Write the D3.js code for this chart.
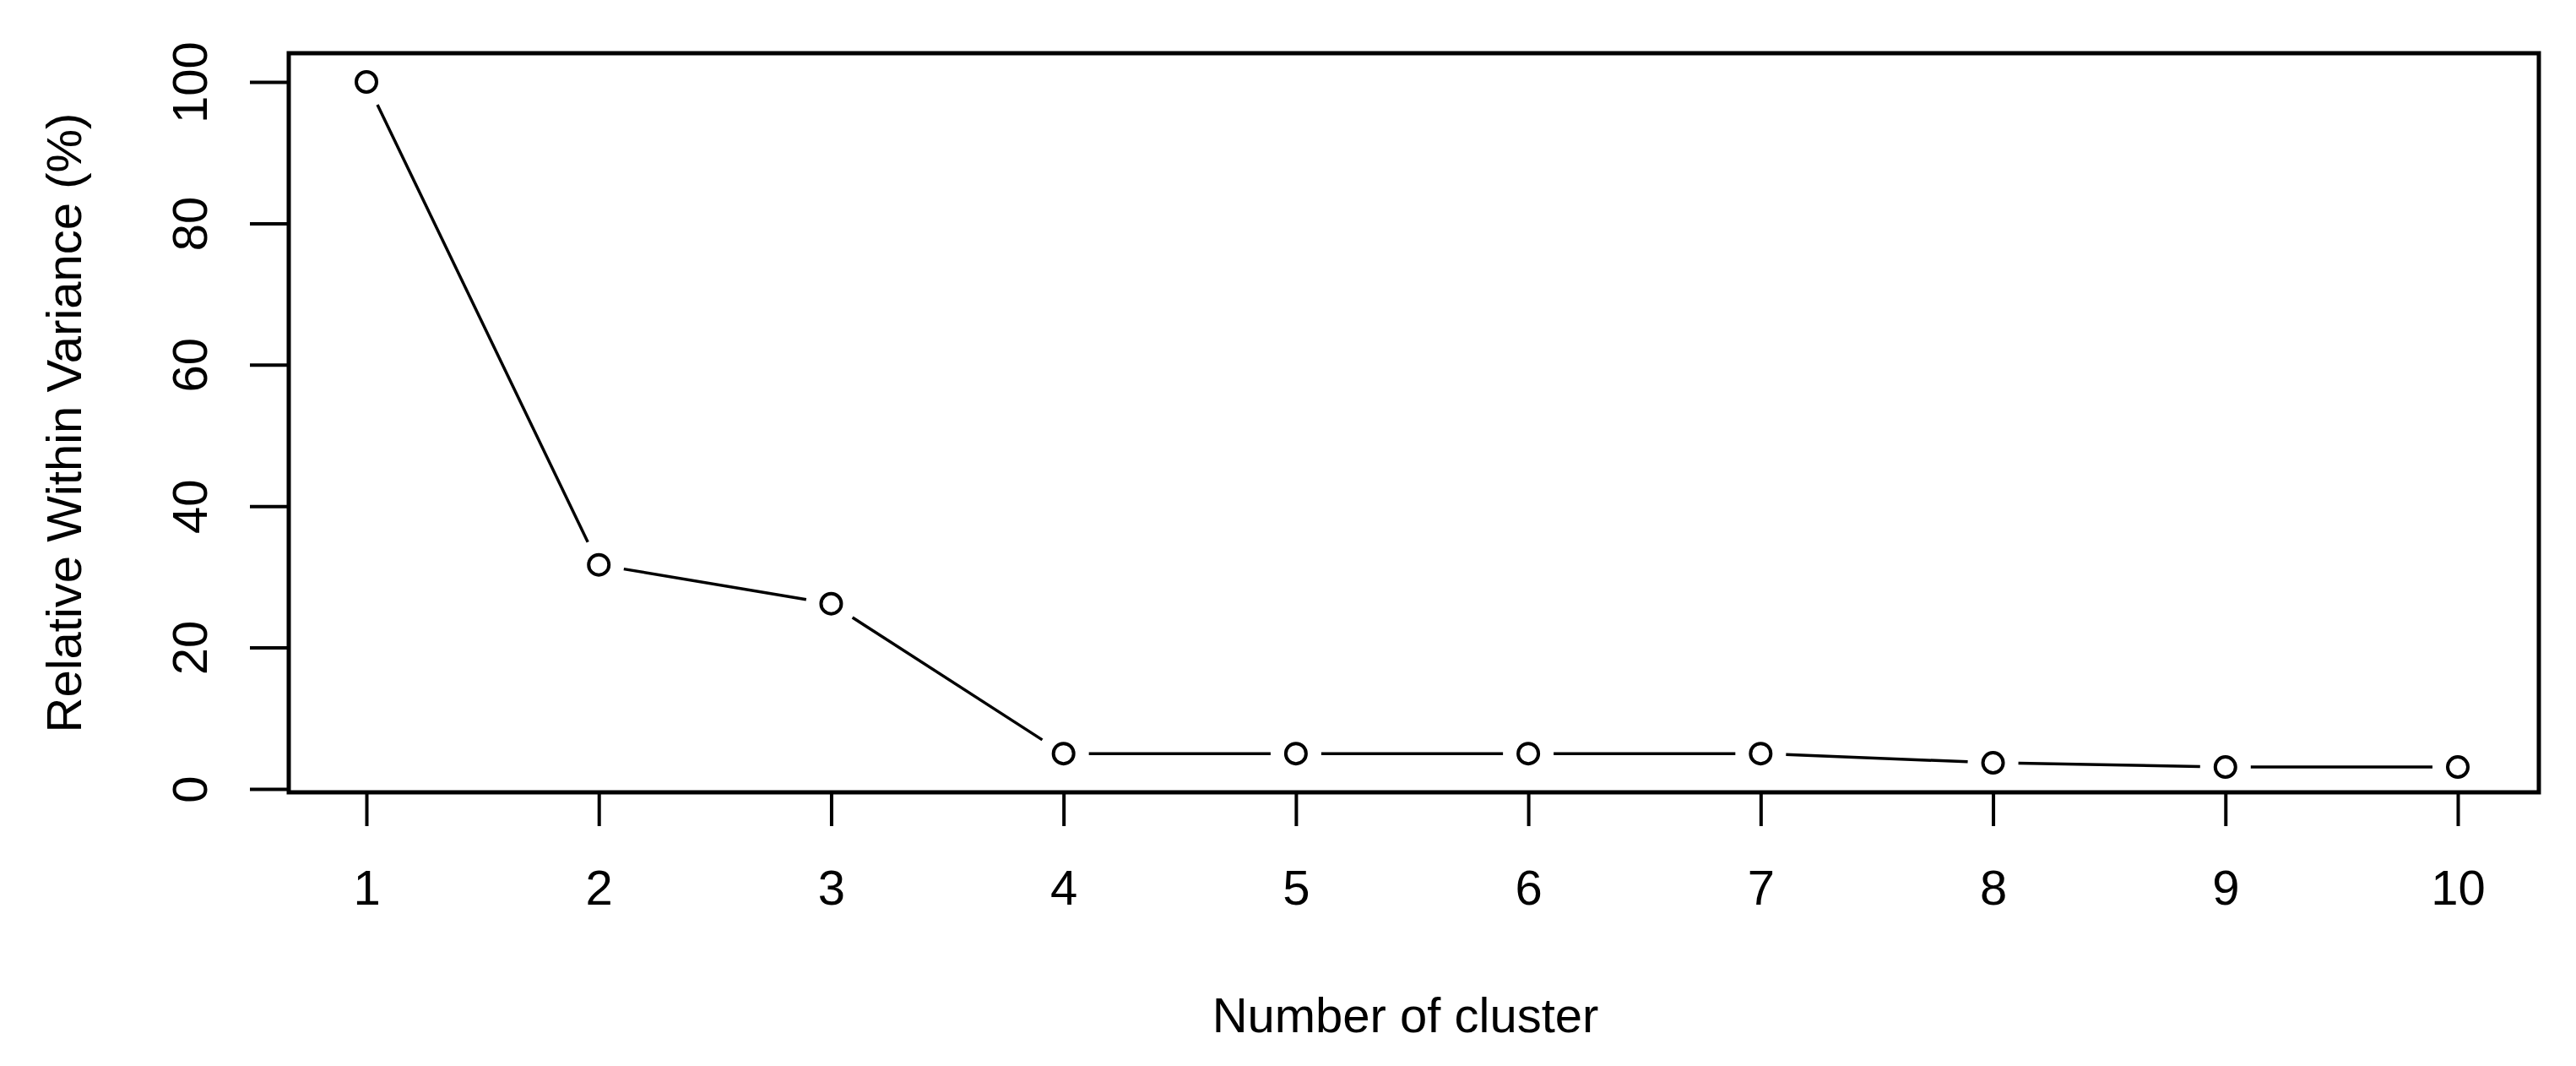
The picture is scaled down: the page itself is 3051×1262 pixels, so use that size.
<!DOCTYPE html>
<html>
<head>
<meta charset="utf-8">
<script src="https://cdn.jsdelivr.net/npm/d3@7"></script>
<style>
  body { margin: 0; background: #fff; }
  text { font-family: "Liberation Sans", Arial, sans-serif; fill: #000; }
</style>
</head>
<body>
<script>
const clusters = [1, 2, 3, 4, 5, 6, 7, 8, 9, 10];
const variance = [100, 31.7, 26.2, 5.0, 5.0, 5.0, 5.0, 3.7, 3.1, 3.1];
const yTicks = [0, 20, 40, 60, 80, 100];

const W = 3051, H = 1262;
const box = { left: 342, right: 3007, top: 63, bottom: 938 };

const svg = d3.select('body')
  .append('svg')
  .attr('width', W)
  .attr('height', H);

const xscale = d3.scaleLinear().domain([1, 10]).range([434, 2911]);
const yscale = d3.scaleLinear().domain([0, 100]).range([934, 97]);

// frame
svg.append('rect')
  .attr('x', box.left).attr('y', box.top)
  .attr('width', box.right - box.left).attr('height', box.bottom - box.top)
  .attr('fill', 'none').attr('stroke', '#000').attr('stroke-width', 5);

// y axis (ticks outside the frame, labels rotated)
const yaxis = d3.axisLeft(yscale).tickValues(yTicks).tickSize(44);
const gy = svg.append('g').attr('transform', `translate(${box.left - 2},0)`).call(yaxis);
gy.select('.domain').remove();
gy.selectAll('.tick line').attr('stroke', '#000').attr('stroke-width', 4);
gy.selectAll('.tick text')
  .attr('font-size', 58)
  .attr('text-anchor', 'middle')
  .attr('x', 0).attr('y', 0).attr('dy', 0)
  .attr('transform', 'translate(-95,0) rotate(-90)');

// x axis
const xaxis = d3.axisBottom(xscale).tickValues(clusters).tickSize(40).tickPadding(52).tickFormat(d3.format('d'));
const gx = svg.append('g').attr('transform', `translate(0,${box.bottom})`).call(xaxis);
gx.select('.domain').remove();
gx.selectAll('.tick line').attr('stroke', '#000').attr('stroke-width', 4);
gx.selectAll('.tick text').attr('font-size', 58).attr('dy', '0.71em');

// axis titles
svg.append('text')
  .attr('x', (box.left + box.right) / 2 - 10).attr('y', 1222)
  .attr('text-anchor', 'middle').attr('font-size', 58)
  .text('Number of cluster');
svg.append('text')
  .attr('transform', `translate(96, ${(box.top + box.bottom) / 2}) rotate(-90)`)
  .attr('text-anchor', 'middle').attr('font-size', 58)
  .text('Relative Within Variance (%)');

// line segments with gaps around points (type = "b")
const pts = clusters.map((c, i) => [xscale(c), yscale(variance[i])]);
const gap = 30;
for (let i = 0; i < pts.length - 1; i++) {
  const [x1, y1] = pts[i], [x2, y2] = pts[i + 1];
  const len = Math.hypot(x2 - x1, y2 - y1);
  const ux = (x2 - x1) / len, uy = (y2 - y1) / len;
  svg.append('line')
    .attr('x1', x1 + ux * gap).attr('y1', y1 + uy * gap)
    .attr('x2', x2 - ux * gap).attr('y2', y2 - uy * gap)
    .attr('stroke', '#000').attr('stroke-width', 3.5);
}

svg.selectAll('.point')
  .data(clusters)
  .enter()
  .append('circle')
  .attr('class', 'point')
  .attr('cx', d => xscale(d))
  .attr('cy', (d, i) => yscale(variance[i]))
  .attr('r', 12)
  .attr('fill', 'none')
  .attr('stroke', '#000')
  .attr('stroke-width', 4);
</script>
</body>
</html>
